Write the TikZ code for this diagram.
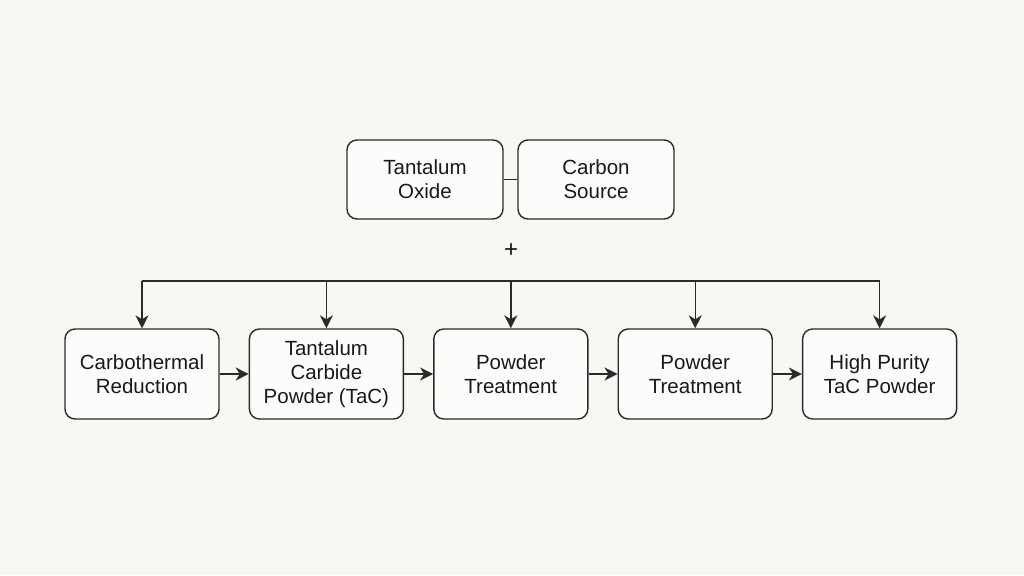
\documentclass[tikz,border=0pt]{standalone}
\usepackage{fontspec}
\setmainfont{Liberation Sans}
\usetikzlibrary{positioning,arrows.meta}
\definecolor{bgcol}{HTML}{F7F7F4}
\definecolor{linecol}{HTML}{2A2A2A}

\begin{document}
\begin{tikzpicture}[
  x=1pt,y=-1pt,
  node distance=29pt and 29pt,
  procnode/.style={draw=linecol,line width=1.4pt,rounded corners=10pt,fill=white!60!bgcol,align=center,
    minimum width=154pt,minimum height=90pt,inner sep=0pt,text=black!90,
    font=\fontsize{20.5}{24}\selectfont},
  srcnode/.style={procnode,minimum width=156pt,minimum height=79pt},
  flow/.style={draw=linecol,line width=1.4pt,-{Stealth[length=13pt,width=13pt,inset=4pt]}}
]
\fill[bgcol] (0,0) rectangle (1024,575);
\useasboundingbox (0,0) rectangle (1024,575);
% raw materials
\node[srcnode] (TaO) at (425,179.5) {Tantalum\\Oxide};
\node[srcnode,right=13.6pt of TaO] (CSrc) {Carbon\\Source};
\node[font=\fontsize{24}{24}\selectfont,text=black!90] (plus) at (511,251) {+};
% process chain
\node[procnode] (Red) at (142,374) {Carbothermal\\Reduction};
\node[procnode,right=of Red] (TaC) {Tantalum\\Carbide\\Powder (TaC)};
\node[procnode,right=of TaC] (PT1) {Powder\\Treatment};
\node[procnode,right=of PT1] (PT2) {Powder\\Treatment};
\node[procnode,right=of PT2] (HP) {High Purity\\TaC Powder};
% feed line
\coordinate (B1) at (Red.north |- 0,281);
\coordinate (B2) at (TaC.north |- 0,281);
\coordinate (B3) at (PT1.north |- 0,281);
\coordinate (B4) at (PT2.north |- 0,281);
\coordinate (B5) at (HP.north |- 0,281);
\draw[linecol,line width=1.4pt] (TaO) -- (CSrc);
\draw[linecol,line width=1.4pt] (B1) -- (B5);
\path (B1) edge[flow] (Red)
(B2) edge[flow] (TaC)
(B3) edge[flow] (PT1)
(B4) edge[flow] (PT2)
(B5) edge[flow] (HP)
(Red) edge[flow] (TaC)
(TaC) edge[flow] (PT1)
(PT1) edge[flow] (PT2)
(PT2) edge[flow] (HP);
\end{tikzpicture}
\end{document}
